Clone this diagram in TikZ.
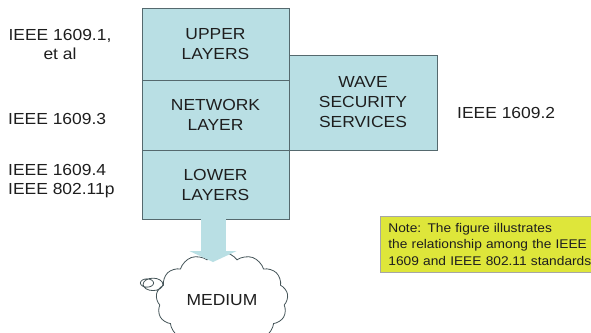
\documentclass[tikz,border=0pt]{standalone}
\usepackage{fontspec}
\setmainfont[FakeStretch=1.09]{Liberation Sans}
\usetikzlibrary{shapes.callouts,shapes.symbols,arrows.meta,calc}
\definecolor{boxblue}{RGB}{185,223,228}
\definecolor{boxline}{RGB}{85,105,110}
\definecolor{noteyellow}{RGB}{222,230,58}
\definecolor{txt}{RGB}{30,30,30}
\tikzset{
  layerbox/.style={draw=boxline, line width=0.9pt, fill=boxblue, minimum width=147pt, align=center, inner sep=0pt, font=\fontsize{16}{20}\selectfont, text=txt},
  sidelabel/.style={font=\fontsize{16}{19}\selectfont, text=txt, inner sep=0pt},
  notebox/.style={draw=gray!70, line width=0.8pt, fill=noteyellow, align=left, font=\fontsize{12.6}{16.2}\selectfont, text=txt, inner sep=0pt, text width=203pt},
}
\begin{document}
\begin{tikzpicture}[x=1pt,y=-1pt]
\useasboundingbox (0,0) rectangle (591,332);
\clip (0,0) rectangle (591,332);
% main stack
\node[layerbox, minimum height=72pt] (upper) at (215.5,44) {UPPER\\LAYERS};
\node[layerbox, minimum height=70pt] (network) at (215.5,115) {NETWORK\\LAYER};
\node[layerbox, minimum height=69pt] (lower) at (215.5,184.5) {LOWER\\LAYERS};
\node[layerbox, minimum width=148pt, minimum height=95pt] (wave) at (363,102.5) {WAVE\\SECURITY\\SERVICES};
% side labels
\node[sidelabel, align=center] (l1) at (60,44) {IEEE 1609.1,\\et al};
\node[sidelabel, anchor=west] (l3) at (8,119) {IEEE 1609.3};
\node[sidelabel, anchor=west, align=left] (l4) at (8,181) {IEEE 1609.4\\IEEE 802.11p};
\node[sidelabel, anchor=west] (l2) at (457,113) {IEEE 1609.2};
% medium cloud
\node[cloud callout, draw=boxline!80!black, line width=0.8pt, fill=white, cloud puffs=13, cloud puff arc=110, aspect=1.45,
      minimum width=132pt, minimum height=96pt, callout pointer segments=2,
      callout absolute pointer={(147,283)}, font=\fontsize{16}{19}\selectfont, text=txt] (medium) at (222,300) {MEDIUM};
% block arrow
\coordinate (tip) at (213,262);
\draw[boxblue, line width=25pt, -{Triangle[width=47pt,length=11pt]}] (lower.south -| tip) -- (tip);
% note
\node[notebox, anchor=north west, minimum height=56pt, inner xsep=8pt] (note) at (380,216) {Note: The figure illustrates\\the relationship among the IEEE\\1609 and IEEE 802.11 standards};
\end{tikzpicture}
\end{document}
